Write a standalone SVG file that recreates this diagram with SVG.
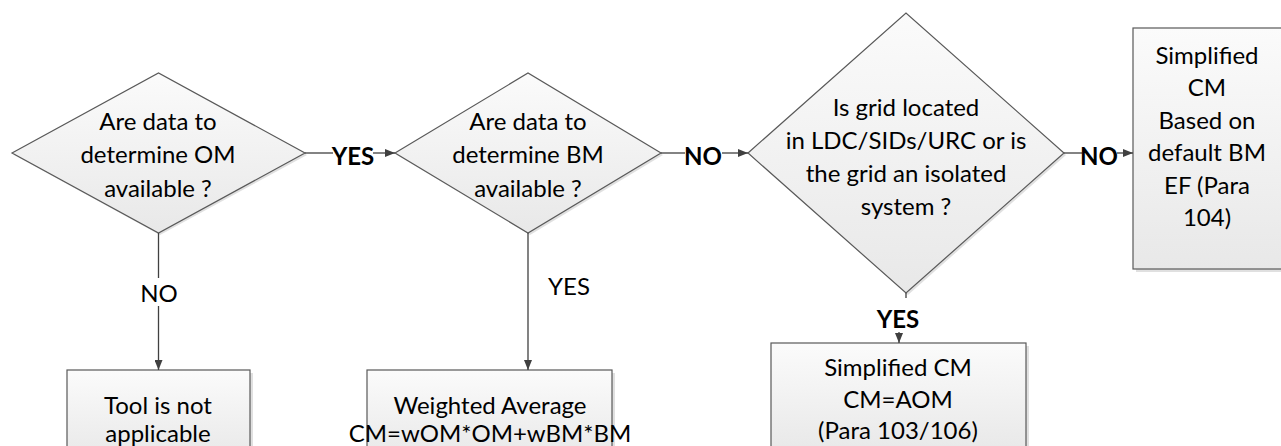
<svg xmlns="http://www.w3.org/2000/svg" width="1281" height="446" viewBox="0 0 1281 446">
<style>
.node{stroke:#595959;stroke-width:1.2;fill:url(#g)}
.sh{fill:#000;opacity:0.12}
.t{font-family:Lato,"Liberation Sans",sans-serif;font-size:24px;fill:#000;text-anchor:middle;dominant-baseline:central}
.lb{font-family:Lato,"Liberation Sans",sans-serif;font-size:24px;font-weight:bold;fill:#000;text-anchor:middle;dominant-baseline:central}
.c{stroke:#404040;stroke-width:1.3;fill:none}
.a{marker-end:url(#ah)}
</style>
<defs>
<linearGradient id="g" x1="0" y1="0" x2="0" y2="1">
<stop offset="0" stop-color="#fbfbfb"/>
<stop offset="1" stop-color="#e8e8e8"/>
</linearGradient>
<marker id="ah" markerWidth="10" markerHeight="8" refX="10" refY="4" orient="auto" markerUnits="userSpaceOnUse">
<path d="M0,0 L10,4 L0,8 Z" fill="#404040"/>
</marker>
</defs>
<rect width="1281" height="446" fill="#fff"/>

<g id="n_q1">
<polygon class="sh" points="14,155 160,75 307,155 160,235"/>
<polygon class="node" points="12,153 158.5,73 305,153 158.5,233"/>
<text class="t" x="158" y="120">Are data to</text>
<text class="t" x="158" y="153">determine OM</text>
<text class="t" x="158" y="187">available ?</text>
</g>

<g id="n_q2">
<polygon class="sh" points="397,155 530,75 663,155 530,235"/>
<polygon class="node" points="395,153 528,73 661,153 528,233"/>
<text class="t" x="528" y="120">Are data to</text>
<text class="t" x="528" y="153">determine BM</text>
<text class="t" x="528" y="187">available ?</text>
</g>

<g id="n_q3">
<polygon class="sh" points="750,155 908,15 1066,155 908,295"/>
<polygon class="node" points="748,153 906,13 1064,153 906,293"/>
<text class="t" x="906" y="106">Is grid located</text>
<text class="t" x="906" y="139">in LDC/SIDs/URC or is</text>
<text class="t" x="906" y="172">the grid an isolated</text>
<text class="t" x="906" y="205">system ?</text>
</g>

<g id="n_default">
<rect class="sh" x="1136" y="31" width="150" height="241"/>
<rect class="node" x="1133" y="28" width="150" height="241"/>
<text class="t" x="1207" y="54">Simplified</text>
<text class="t" x="1207" y="86">CM</text>
<text class="t" x="1207" y="119">Based on</text>
<text class="t" x="1207" y="151">default BM</text>
<text class="t" x="1207" y="184">EF (Para</text>
<text class="t" x="1207" y="216">104)</text>
</g>

<g id="n_aom">
<rect class="sh" x="774" y="346" width="255" height="110"/>
<rect class="node" x="771" y="343" width="255" height="110"/>
<text class="t" x="898" y="366">Simplified CM</text>
<text class="t" x="898" y="398">CM=AOM</text>
<text class="t" x="898" y="429">(Para 103/106)</text>
</g>

<g id="n_notapplicable">
<rect class="sh" x="70" y="373" width="183" height="90"/>
<rect class="node" x="67" y="370" width="183" height="90"/>
<text class="t" x="158" y="404">Tool is not</text>
<text class="t" x="158" y="432">applicable</text>
</g>

<g id="n_weighted">
<rect class="sh" x="370" y="373" width="245" height="90"/>
<rect class="node" x="367" y="370" width="245" height="90"/>
<text class="t" x="490" y="404">Weighted Average</text>
<text class="t" x="490" y="432">CM=wOM*OM+wBM*BM</text>
</g>

<g id="connectors">
<line class="c" x1="305" y1="153" x2="333" y2="153"/>
<text class="lb" x="353" y="155">YES</text>
<line class="c a" x1="373" y1="153" x2="395" y2="153"/>

<line class="c" x1="661" y1="153" x2="685" y2="153"/>
<text class="lb" x="703" y="155">NO</text>
<line class="c a" x1="722" y1="153" x2="748" y2="153"/>

<line class="c" x1="1064" y1="153" x2="1082" y2="153"/>
<text class="lb" x="1099" y="155">NO</text>
<line class="c a" x1="1117" y1="153" x2="1133" y2="153"/>

<line class="c" x1="906" y1="293" x2="906" y2="298"/>
<text class="lb" x="898" y="318">YES</text>
<line class="c a" x1="899" y1="332" x2="899" y2="343"/>

<line class="c" x1="158.5" y1="233" x2="158.5" y2="278"/>
<text class="t" x="159" y="292">NO</text>
<line class="c a" x1="158.5" y1="306" x2="158.5" y2="370"/>

<line class="c a" x1="528" y1="233" x2="528" y2="370"/>
<text class="t" x="569" y="285">YES</text>
</g>
</svg>
